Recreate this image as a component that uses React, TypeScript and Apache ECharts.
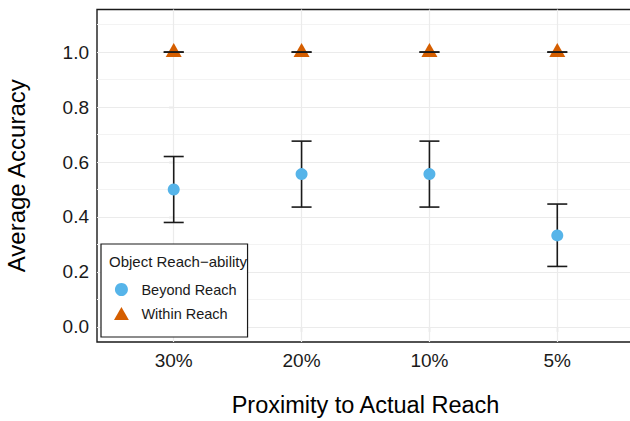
import React, { useEffect, useRef } from "react";
import * as echarts from "echarts";

const categories = ["30%", "20%", "10%", "5%"];
const beyondMean = [0.5, 0.556, 0.556, 0.333];
const beyondLow = [0.38, 0.436, 0.436, 0.22];
const beyondHigh = [0.62, 0.676, 0.676, 0.447];
const withinMean = [1, 1, 1, 1];
const withinLow = [1, 1, 1, 1];
const withinHigh = [1, 1, 1, 1];
const yTicks = [0, 0.2, 0.4, 0.6, 0.8, 1.0];
const yMinor = [0.1, 0.3, 0.5, 0.7, 0.9, 1.1];
const xTicks = [0, 1, 2, 3];

export default function App() {
  const ref = useRef<HTMLDivElement>(null);
  useEffect(() => {
    if (!ref.current) return;
    const chart = echarts.init(ref.current, undefined, { renderer: "svg" });
    const font = "'Liberation Sans', Arial, sans-serif";
    const major = { color: "#EBEBEB", width: 1.2, type: "solid" };
    const minor = { color: "#F3F3F3", width: 1, type: "solid" };
    const errData = [
      ...categories.map((_, i) => [i, beyondLow[i], beyondHigh[i]]),
      ...categories.map((_, i) => [i, withinLow[i], withinHigh[i]]),
    ];
    chart.setOption({
      animation: false,
      textStyle: { fontFamily: font },
      grid: {
        left: 97,
        top: 9.5,
        right: -4,
        bottom: 421 - 342,
        outerBoundsMode: "none",
        containLabel: false,
        show: true,
        borderColor: "#1a1a1a",
        borderWidth: 1.4,
        backgroundColor: "transparent",
      },
      xAxis: {
        type: "value",
        min: -0.6,
        max: 3.6,
        name: "Proximity to Actual Reach",
        nameLocation: "middle",
        nameGap: 51,
        nameTextStyle: { fontSize: 23.5, color: "#000", fontFamily: font },
        axisLine: { show: false },
        splitLine: { show: false },
        axisTick: {
          show: true,
          customValues: xTicks,
          length: 5,
          lineStyle: { color: "#333", width: 1.1 },
        },
        axisLabel: {
          customValues: xTicks,
          formatter: (v: number) => categories[Math.round(v)] ?? "",
          fontSize: 19,
          color: "#1a1a1a",
          margin: 9,
          fontFamily: font,
        },
      },
      yAxis: {
        type: "value",
        min: -0.055,
        max: 1.155,
        name: "Average Accuracy",
        nameLocation: "middle",
        nameGap: 69,
        nameRotate: 90,
        nameTextStyle: { fontSize: 24, color: "#000", fontFamily: font },
        axisLine: { show: false },
        splitLine: { show: false },
        axisTick: {
          show: true,
          customValues: yTicks,
          length: 5,
          lineStyle: { color: "#333", width: 1.1 },
        },
        axisLabel: {
          customValues: yTicks,
          formatter: (v: number) => v.toFixed(1),
          fontSize: 19,
          color: "#1a1a1a",
          margin: 8,
          fontFamily: font,
        },
      },
      legend: {
        show: true,
        orient: "vertical",
        left: 101,
        top: 244,
        padding: [38, 11, 16, 13],
        itemWidth: 30,
        itemHeight: 13,
        itemGap: 9,
        selectedMode: false,
        backgroundColor: "#fff",
        borderColor: "#1a1a1a",
        borderWidth: 1.2,
        borderRadius: 0,
        textStyle: { fontSize: 14.5, color: "#1a1a1a", fontFamily: font },
        data: [
          { name: "Beyond Reach", icon: "circle" },
          { name: "Within Reach", icon: "path://M8,0 L16,14 L0,14 Z" },
        ],
      },
      graphic: [
        {
          type: "text",
          left: 109,
          top: 254,
          z: 100,
          style: {
            text: "Object Reach\u2212ability",
            fontSize: 15,
            fill: "#1a1a1a",
            fontFamily: font,
          },
        },
      ],
      series: [
        {
          name: "gridlines",
          type: "line",
          data: [[0, 0]],
          showSymbol: false,
          symbol: "none",
          lineStyle: { opacity: 0 },
          z: 1,
          silent: true,
          markLine: {
            silent: true,
            z: 1,
            symbol: "none",
            label: { show: false },
            animation: false,
            data: [
              ...yMinor.map((v) => ({ yAxis: v, lineStyle: minor })),
              ...yTicks.map((v) => ({ yAxis: v, lineStyle: major })),
              ...xTicks.map((v) => ({ xAxis: v, lineStyle: major })),
            ],
          },
        },
        {
          name: "Within Reach",
          type: "scatter",
          symbol: "triangle",
          symbolSize: [16, 14],
          symbolOffset: [0, -2],
          itemStyle: { color: "#D55E00", opacity: 1 },
          z: 2,
          data: withinMean.map((v, i) => [i, v]),
        },
        {
          name: "errorbars",
          type: "custom",
          z: 3,
          silent: true,
          encode: { x: 0, y: [1, 2] },
          data: errData,
          renderItem: (params: any, api: any) => {
            const x = api.value(0);
            const lo = api.coord([x, api.value(1)]);
            const hi = api.coord([x, api.value(2)]);
            const w = 10;
            const style = { stroke: "#1a1a1a", lineWidth: 1.6 };
            return {
              type: "group",
              children: [
                { type: "line", shape: { x1: lo[0], y1: lo[1], x2: hi[0], y2: hi[1] }, style },
                { type: "line", shape: { x1: hi[0] - w, y1: hi[1], x2: hi[0] + w, y2: hi[1] }, style },
                { type: "line", shape: { x1: lo[0] - w, y1: lo[1], x2: lo[0] + w, y2: lo[1] }, style },
              ],
            };
          },
        },
        {
          name: "Beyond Reach",
          type: "scatter",
          symbol: "circle",
          symbolSize: 12,
          itemStyle: { color: "#56B4E9", opacity: 1 },
          z: 4,
          data: beyondMean.map((v, i) => [i, v]),
        },
      ],
    });
    return () => chart.dispose();
  }, []);
  return (
    <div
      ref={ref}
      style={{ position: "absolute", left: 0, top: 0, width: 630, height: 421, background: "#fff" }}
    />
  );
}
